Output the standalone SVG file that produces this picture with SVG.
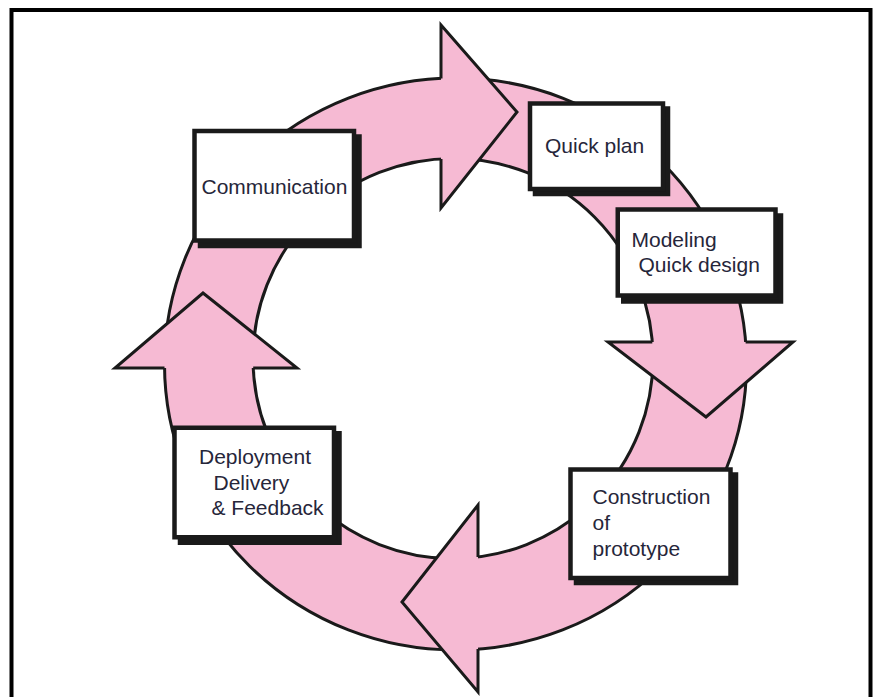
<svg xmlns="http://www.w3.org/2000/svg" width="875" height="697" viewBox="0 0 875 697">
  <style>
    .ring { fill: #F6BAD3; stroke: #1a1a1a; stroke-width: 3; fill-rule: evenodd; }
    .headfill { fill: #F6BAD3; stroke: none; }
    .headline { fill: none; stroke: #1a1a1a; stroke-width: 3; stroke-linejoin: miter; }
    .shadow { fill: #1a1a1a; stroke: #1a1a1a; stroke-width: 4.5; }
    .box { fill: #ffffff; stroke: #1a1a1a; stroke-width: 4.5; }
    .lbl { font-family: "Liberation Sans", Arial, sans-serif; font-size: 21px; fill: #26263a; }
    .frame { fill: none; stroke: #000; stroke-width: 4; }
  </style>
  <rect x="0" y="0" width="875" height="697" fill="#ffffff"/>
  <rect class="frame" x="11.5" y="10" width="859" height="700"/>

  <g id="connectors">
    <path class="ring" d="M 164.5 364 A 291 286 0 1 0 746.5 364 A 291 286 0 1 0 164.5 364 Z M 253 358.5 A 200 200 0 1 0 653 358.5 A 200 200 0 1 0 253 358.5 Z"/>
    <!-- top arrow (right) -->
    <polygon class="headfill" points="441,25 517,112 441,208"/>
    <polyline class="headline" points="441,78.4 441,25 517,112 441,208 441,158.9"/>
    <!-- right arrow (down) -->
    <polygon class="headfill" points="608,342 706,417 793,342"/>
    <polyline class="headline" points="652.3,342 608,342 706,417 793,342 745.6,342"/>
    <!-- bottom arrow (left) -->
    <polygon class="headfill" points="478,505 402,602 478,692"/>
    <polyline class="headline" points="478,557 478,505 402,602 478,692 478,649"/>
    <!-- left arrow (up) -->
    <polygon class="headfill" points="115,368 203,293 297,368"/>
    <polyline class="headline" points="164.5,368 115,368 203,293 297,368 253.2,368"/>
  </g>

  <g id="communication">
    <rect class="shadow" x="200" y="136.5" width="159.5" height="109.5"/>
    <rect class="box" x="194.5" y="131" width="159.5" height="109.5"/>
    <text class="lbl" x="201.5" y="194">Communication</text>
  </g>

  <g id="quick-plan">
    <rect class="shadow" x="535" y="108.5" width="133" height="85.5"/>
    <rect class="box" x="530" y="103.5" width="133" height="85.5"/>
    <text class="lbl" x="545" y="153">Quick plan</text>
  </g>

  <g id="modeling">
    <rect class="shadow" x="623.25" y="215.5" width="157.75" height="86"/>
    <rect class="box" x="617.75" y="209.5" width="157.75" height="86"/>
    <text class="lbl" x="631.5" y="246.5">Modeling</text>
    <text class="lbl" x="638.5" y="271.5">Quick design</text>
  </g>

  <g id="construction">
    <rect class="shadow" x="576" y="474.5" width="160" height="108.5"/>
    <rect class="box" x="570.5" y="469.5" width="160" height="108.5"/>
    <text class="lbl" x="592.5" y="504">Construction</text>
    <text class="lbl" x="592.5" y="530">of</text>
    <text class="lbl" x="592.5" y="556">prototype</text>
  </g>

  <g id="deployment">
    <rect class="shadow" x="180" y="433.25" width="159.5" height="109.5"/>
    <rect class="box" x="174.5" y="427.75" width="159.5" height="109.5"/>
    <text class="lbl" x="199" y="464">Deployment</text>
    <text class="lbl" x="213.5" y="489.5">Delivery</text>
    <text class="lbl" x="211.5" y="515">&amp; Feedback</text>
  </g>
</svg>
